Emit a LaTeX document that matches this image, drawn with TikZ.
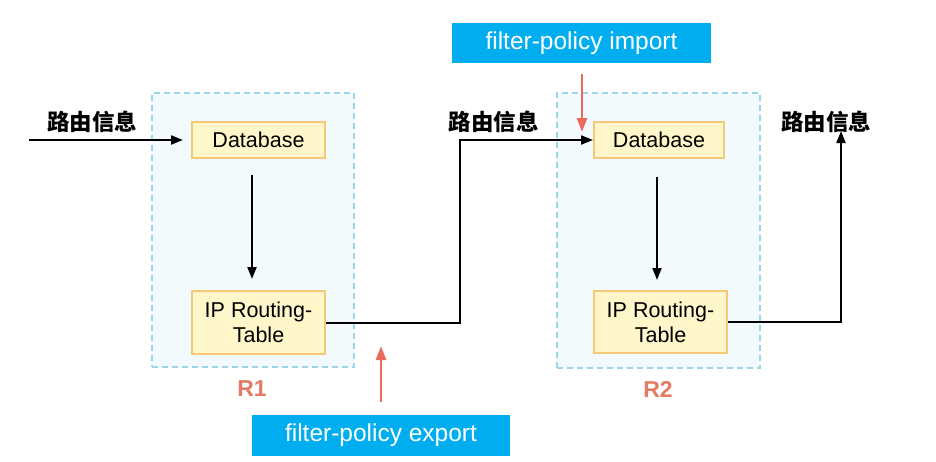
\documentclass[tikz,border=0pt]{standalone}
\usepackage{fontspec}
\setmainfont{Liberation Sans}
\newfontfamily\cjk{Noto Sans CJK SC}
\usetikzlibrary{arrows.meta}
\definecolor{boxfill}{HTML}{FFF7C9}
\definecolor{boxline}{HTML}{F6C87A}
\definecolor{contfill}{HTML}{F2FAFD}
\definecolor{contline}{HTML}{9AD5E8}
\definecolor{pcyan}{HTML}{00AEEF}
\definecolor{pred}{HTML}{EA6B5B}
\definecolor{rlabel}{HTML}{E57A62}
\tikzset{
  container/.style={draw=contline, fill=contfill, line width=1.5pt, dash pattern=on 6pt off 4pt, minimum width=202pt, minimum height=274pt, inner sep=0pt},
  tablebox/.style={draw=boxline, fill=boxfill, line width=2pt, minimum width=133pt, inner sep=0pt, align=center, font=\fontsize{21.5}{25}\selectfont},
  policy/.style={fill=pcyan, text=white, minimum width=259pt, minimum height=40pt, inner sep=0pt, font=\fontsize{24.5}{28}\selectfont},
  info/.style={font=\cjk\bfseries\fontsize{22.5}{26}\selectfont, inner sep=0pt},
  rname/.style={text=rlabel, font=\bfseries\fontsize{23}{27}\selectfont, inner sep=0pt},
  conn/.style={line width=2pt, -{Triangle[length=12pt,width=9pt]}},
  redarrow/.style={draw=pred, line width=2.8pt, -{Triangle[length=14pt,width=10pt]}}
}
\begin{document}
\begin{tikzpicture}[x=1pt,y=-1pt]
\useasboundingbox (0,0) rectangle (936,461);
% containers
\node[container] (R1) at (253,230) {};
\node[container, minimum width=203pt, minimum height=275pt] (R2) at (658.5,230.5) {};
% boxes
\node[tablebox, minimum height=36pt] (DB1) at (258.5,140) {Database};
\node[tablebox, minimum height=63pt] (IP1) at (258.5,322.5) {IP Routing-\\Table};
\node[tablebox, minimum height=36pt, minimum width=130pt] (DB2) at (659,140) {Database};
\node[tablebox, minimum height=62pt] (IP2) at (660.5,322) {IP Routing-\\Table};
% labels
\node[info] (L1) at (92,122) {路由信息};
\node[info] (L2) at (493.5,122) {路由信息};
\node[info] (L3) at (826,122) {路由信息};
\node[rname] (N1) at (252,389) {R1};
\node[rname] (N2) at (658,389) {R2};
% policy boxes
\node[policy] (IMP) at (581.5,43) {filter-policy import};
\node[policy, minimum width=258pt, minimum height=41pt] (EXP) at (381,435.5) {filter-policy export};
% coordinates
\coordinate (in) at (29,140);
\coordinate (k1) at (460,140);
\coordinate (out) at (841,131);
\coordinate (impend) at (582,132);
\coordinate (expend) at (381,346);
\coordinate (v1) at (252,0);
\coordinate (v2) at (657,0);
% connectors
\draw[conn, shorten >=8pt] (in) -- (DB1.west);
\draw[conn, shorten <=16pt, shorten >=11pt] (DB1.south -| v1) -- (IP1.north -| v1);
\draw[conn, shorten <=18pt, shorten >=10pt] (DB2.south -| v2) -- (IP2.north -| v2);
\draw[conn] (IP1.east) -| (k1) -- (DB2.west);
\draw[conn] (IP2.east) -| (out);
\draw[redarrow, shorten <=11pt] (IMP.south -| impend) -- (impend);
\draw[redarrow, shorten <=13pt] (EXP.north) -- (expend);
\end{tikzpicture}
\end{document}
